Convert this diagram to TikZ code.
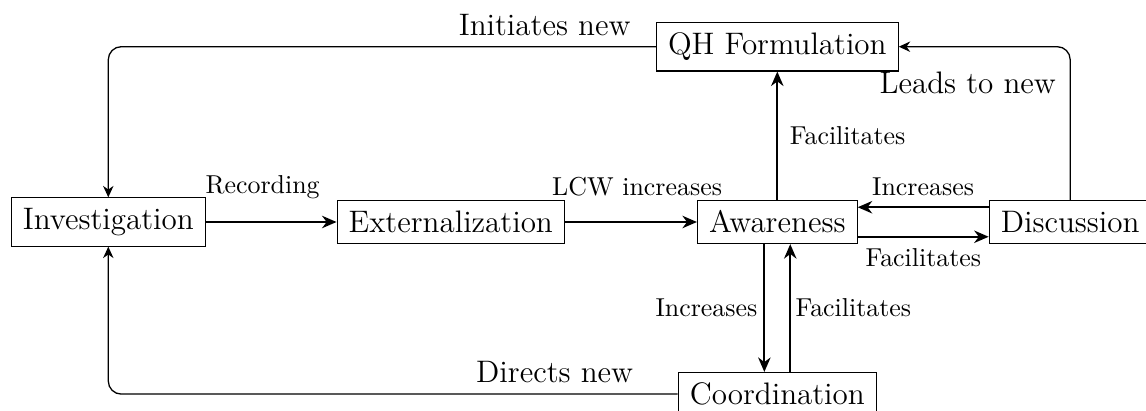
\documentclass[tikz,border=0pt]{standalone}
\usetikzlibrary{arrows.meta}
\begin{document}
\begin{tikzpicture}[x=0.3861pt, y=-0.3861pt,
  stage/.style={draw, line width=0.4pt, inner xsep=4.5pt, inner ysep=4pt, font=\large},
  flow/.style={line width=0.8pt, -{Stealth[length=5.6pt, width=4.8pt, inset=1.8pt]}},
  loop/.style={line width=0.5pt, rounded corners=5pt, -{Stealth[length=4.4pt, width=4pt, inset=1.4pt]}},
  lbl/.style={inner sep=0pt, anchor=base west},
  biglbl/.style={inner sep=0pt, anchor=base west, font=\large}]
\useasboundingbox (0,0) rectangle (1146,411);

% stages
\node[stage] (inv) at (108.3,222) {Investigation};
\node[stage] (ext) at (450.8,222) {Externalization};
\node[stage] (awa) at (777.3,222) {Awareness};
\node[stage] (dis) at (1070.2,222) {Discussion};
\node[stage] (qh)  at (777.3,46.7) {QH Formulation};
\node[stage] (coo) at (777.3,394.1) {Coordination};

% main flow
\draw[flow] (inv) -- (ext);
\draw[flow] (ext) -- (awa);
\draw[flow] (awa.north) -- (qh.south);
\draw[flow] ([yshift=5.7pt]dis.west) -- ([yshift=5.7pt]awa.east);
\draw[flow] ([yshift=-5.7pt]awa.east) -- ([yshift=-5.7pt]dis.west);
\draw[flow] ([xshift=-5pt]awa.south) -- ([xshift=-5pt]coo.north);
\draw[flow] ([xshift=5pt]coo.north) -- ([xshift=5pt]awa.south);

% feedback loops
\draw[loop] (qh.west) -| (inv.north);
\draw[loop] (coo.west) -| (inv.south);
\draw[loop] (dis.north) |- (qh.east);

% labels
\node[lbl] (lrec) at (205,193.3) {Recording};
\node[lbl] (llcw) at (551.7,195) {LCW increases};
\node[lbl] (lfq)  at (789.3,145) {Facilitates};
\node[lbl] (lida) at (871.7,195) {Increases};
\node[lbl] (lfad) at (865,266.7) {Facilitates};
\node[lbl] (liac) at (655,316.7) {Increases};
\node[lbl] (lfca) at (795,316.7) {Facilitates};
\node[biglbl] (linit) at (458.3,35.7) {Initiates new};
\node[biglbl] (llead) at (879,94) {Leads to new};
\node[biglbl] (ldir)  at (475.7,382.7) {Directs new};
\end{tikzpicture}
\end{document}
